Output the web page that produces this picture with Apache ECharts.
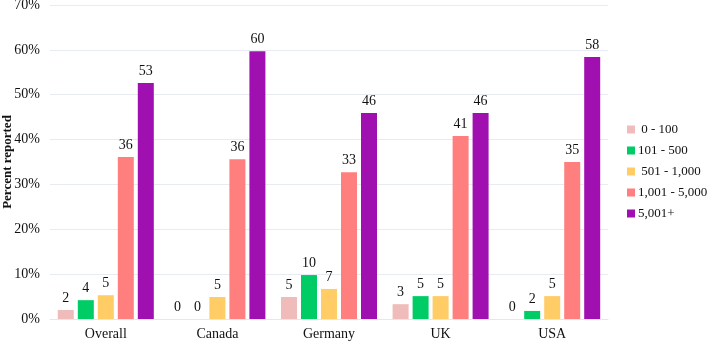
<!DOCTYPE html>
<html style="height: 100%">
<head>
<meta charset="utf-8">
<script src="https://cdn.jsdelivr.net/npm/echarts@6/dist/echarts.min.js"></script>
</head>
<body style="height: 100%; margin: 0">
<div id="container" style="width: 708px; height: 342px"></div>
<script type="text/javascript">
var categories = ['Overall', 'Canada', 'Germany', 'UK', 'USA'];
var seriesNames = [' 0 - 100', '101 - 500', ' 501 - 1,000', '1,001 - 5,000', '5,001+'];
var s0to100 = [2.0, 0, 4.9, 3.3, 0];
var s101to500 = [4.2, 0, 9.8, 5.1, 1.8];
var s501to1000 = [5.3, 4.9, 6.7, 5.1, 5.1];
var s1001to5000 = [36.1, 35.6, 32.7, 40.8, 35.0];
var s5001plus = [52.6, 59.7, 45.9, 45.9, 58.4];
var colors = ['#F0BBBB', '#00CC66', '#FFCC66', '#FF7F7F', '#A010B0'];

var font = '"Liberation Serif", "Times New Roman", serif';
var dom = document.getElementById('container');
var myChart = echarts.init(dom);

var allData = [s0to100, s101to500, s501to1000, s1001to5000, s5001plus];
var series = allData.map(function (d, i) {
    return {
        name: seriesNames[i],
        type: 'bar',
        data: d,
        barWidth: 16,
        barGap: '25%',
        itemStyle: { color: colors[i] },
        label: {
            show: true,
            position: 'top',
            distance: 5,
            color: '#111',
            fontFamily: font,
            fontSize: 14,
            formatter: function (p) { return Math.round(p.value); }
        }
    };
});

var option = {
    animation: false,
    grid: { left: 50, right: 100, top: 5, bottom: 23, outerBoundsMode: 'none' },
    legend: {
        orient: 'vertical',
        left: 622,
        top: 118,
        itemWidth: 8,
        itemHeight: 8,
        itemGap: 8,
        icon: 'rect',
        textStyle: { fontFamily: font, fontSize: 13, color: '#111', padding: [0, 0, 0, -2] },
        data: seriesNames
    },
    xAxis: {
        type: 'category',
        data: categories,
        axisTick: { show: false },
        axisLine: { lineStyle: { color: '#E4E8EE' } },
        axisLabel: { fontFamily: font, fontSize: 14, color: '#111', margin: 8 }
    },
    yAxis: {
        type: 'value',
        min: 0,
        max: 70,
        interval: 10,
        name: 'Percent reported',
        nameLocation: 'middle',
        nameGap: 36,
        nameMoveOverlap: false,
        nameTextStyle: { fontFamily: font, fontSize: 13, fontWeight: 'bold', color: '#111' },
        axisLabel: { fontFamily: font, fontSize: 14, color: '#111', margin: 10, formatter: '{value}%' },
        splitLine: { lineStyle: { color: '#E8ECF2' } }
    },
    series: series
};
myChart.setOption(option, true);
</script>
</body>
</html>
